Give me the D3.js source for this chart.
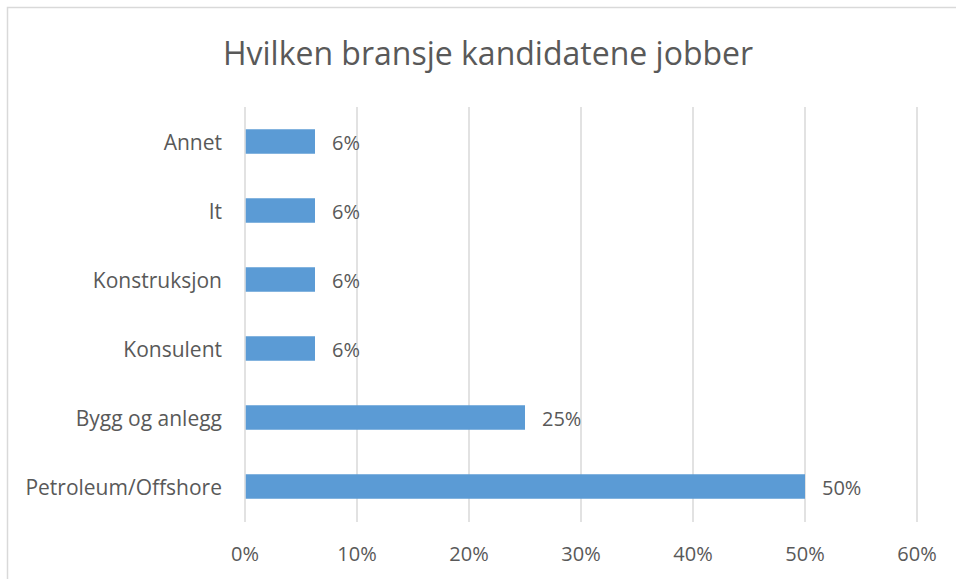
<!DOCTYPE html>
<html>
<head>
<meta charset="utf-8">
<script src="https://cdn.jsdelivr.net/npm/d3@7"></script>
<style>
  body { margin: 0; background: #fff; overflow: hidden; }
  svg { font-family: "Open Sans", sans-serif; display: block; }
</style>
</head>
<body>
<svg id="chart" width="956" height="579"></svg>
<script>
//data
var categories = ['Petroleum/Offshore', 'Bygg og anlegg', 'Konsulent', 'Konstruksjon', 'It', 'Annet'];
var values = [0.5, 0.25, 0.0625, 0.0625, 0.0625, 0.0625];
var valueLabels = ['50%', '25%', '6%', '6%', '6%', '6%'];
var xTicks = [0, 0.1, 0.2, 0.3, 0.4, 0.5, 0.6];
var title = 'Hvilken bransje kandidatene jobber';

var textColor = '#595959';
var gridColor = '#d9d9d9';
var barColor = '#5b9bd5';

var svg = d3.select('#chart');

//outer border (chart frame runs past the right and bottom edges)
svg.append('rect')
  .attr('x', 7.5).attr('y', 7.5)
  .attr('width', 960).attr('height', 590)
  .attr('fill', '#fff')
  .attr('stroke', '#d9d9d9')
  .attr('stroke-width', 1.5);

//title
svg.append('text')
  .attr('x', 488).attr('y', 52)
  .attr('text-anchor', 'middle')
  .attr('dominant-baseline', 'central')
  .attr('fill', textColor)
  .style('font-size', '32px')
  .text(title);

//scales
var x = d3.scaleLinear().domain([0, 0.6]).range([245, 917]);
var y = d3.scaleBand().domain(categories.slice().reverse()).range([107, 521]).paddingInner(0.645).paddingOuter(0.3225);

//gridlines
svg.append('g').selectAll('line')
  .data(xTicks)
  .join('line')
  .attr('x1', function(d) { return x(d); })
  .attr('x2', function(d) { return x(d); })
  .attr('y1', 107).attr('y2', 522)
  .attr('stroke', gridColor)
  .attr('stroke-width', 1.5);

//x tick labels
svg.append('g').selectAll('text')
  .data(xTicks)
  .join('text')
  .attr('x', function(d) { return x(d); })
  .attr('y', 553)
  .attr('text-anchor', 'middle')
  .attr('dominant-baseline', 'central')
  .attr('fill', textColor)
  .style('font-size', '20px')
  .text(d3.format('.0%'));

//bars
var rows = categories.map(function(c, i) { return {cat: c, val: values[i], label: valueLabels[i]}; });

svg.append('g').selectAll('rect')
  .data(rows)
  .join('rect')
  .attr('x', x(0) + 0.75)
  .attr('y', function(d) { return y(d.cat); })
  .attr('width', function(d) { return x(d.val) - x(0) - 0.75; })
  .attr('height', y.bandwidth())
  .attr('fill', barColor);

//value labels
svg.append('g').selectAll('text')
  .data(rows)
  .join('text')
  .attr('x', function(d) { return x(d.val) + 17; })
  .attr('y', function(d) { return y(d.cat) + y.bandwidth() / 2 + 1; })
  .attr('dominant-baseline', 'central')
  .attr('fill', textColor)
  .style('font-size', '20px')
  .text(function(d) { return d.label; });

//category labels
svg.append('g').selectAll('text')
  .data(rows)
  .join('text')
  .attr('x', 222)
  .attr('y', function(d) { return y(d.cat) + y.bandwidth() / 2; })
  .attr('text-anchor', 'end')
  .attr('dominant-baseline', 'central')
  .attr('fill', textColor)
  .style('font-size', '21px')
  .text(function(d) { return d.cat; });
</script>
</body>
</html>
